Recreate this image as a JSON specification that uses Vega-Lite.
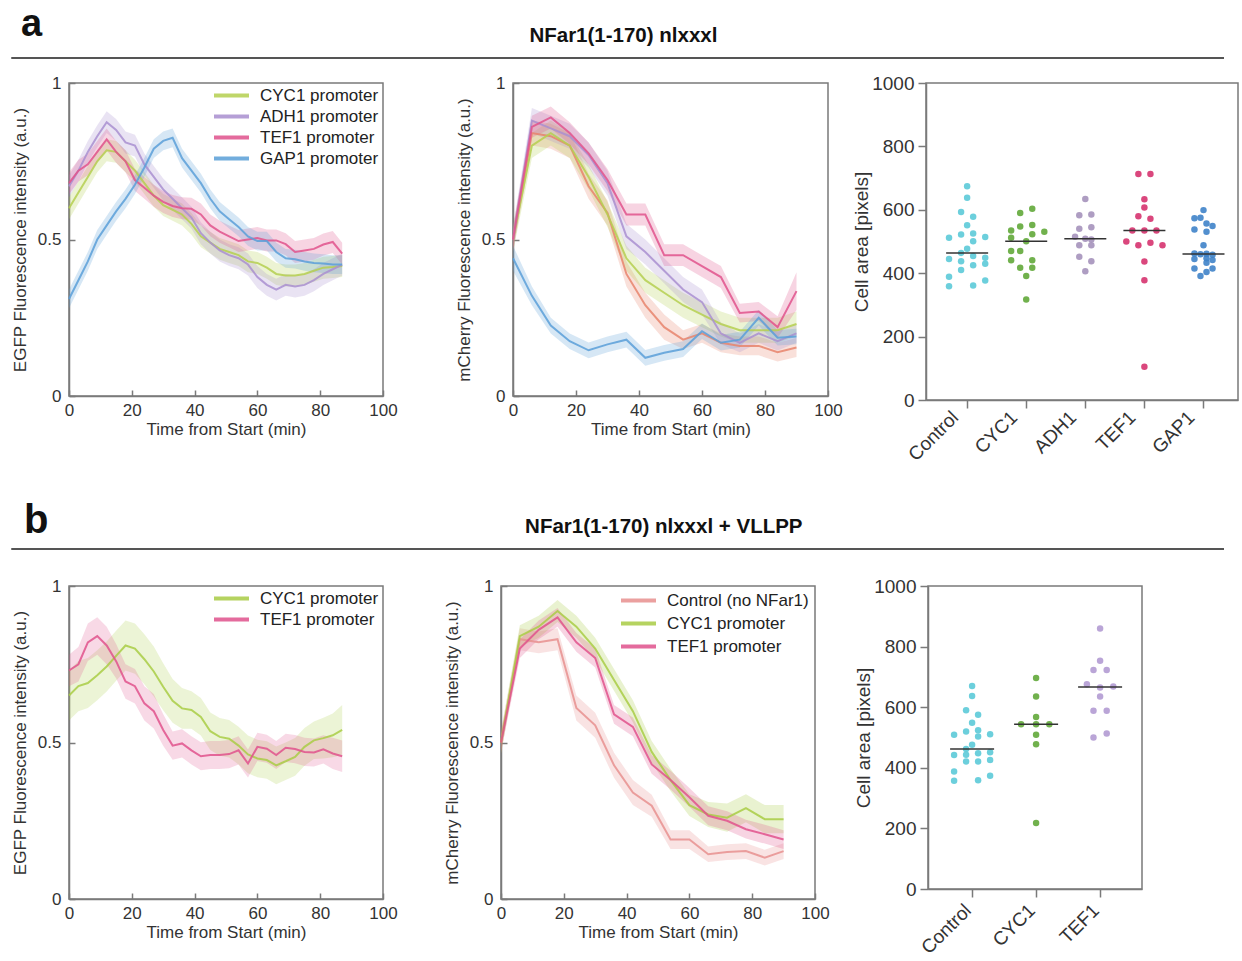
{
"$schema": "https://vega.github.io/schema/vega-lite/v6.json",
"padding": {"left": 10, "top": 0, "right": 0, "bottom": 0},
"config": {
 "font": "Liberation Sans",
 "view": {"stroke": "#7a7a7a", "strokeWidth": 1.5},
 "axis": {"labelFontSize": 17, "titleFontSize": 17, "titleFontWeight": "normal", "labelColor": "#333", "titleColor": "#333", "domainColor": "#7a7a7a", "tickColor": "#7a7a7a", "domainWidth": 1.5, "tickWidth": 1.5, "grid": false, "labelFlush": false, "labelOverlap": false}
},
"datasets": {
 "egfpA": [
  {"t":0,"s":"CYC1 promoter","m":0.6,"e":0.035},{"t":3,"s":"CYC1 promoter","m":0.65,"e":0.035},{"t":6,"s":"CYC1 promoter","m":0.7,"e":0.035},{"t":9,"s":"CYC1 promoter","m":0.75,"e":0.035},{"t":12,"s":"CYC1 promoter","m":0.785,"e":0.035},{"t":15,"s":"CYC1 promoter","m":0.78,"e":0.035},{"t":18,"s":"CYC1 promoter","m":0.75,"e":0.035},{"t":21,"s":"CYC1 promoter","m":0.72,"e":0.035},{"t":24,"s":"CYC1 promoter","m":0.68,"e":0.035},{"t":27,"s":"CYC1 promoter","m":0.64,"e":0.035},{"t":30,"s":"CYC1 promoter","m":0.61,"e":0.035},{"t":33,"s":"CYC1 promoter","m":0.595,"e":0.035},{"t":36,"s":"CYC1 promoter","m":0.58,"e":0.035},{"t":39,"s":"CYC1 promoter","m":0.55,"e":0.035},{"t":42,"s":"CYC1 promoter","m":0.51,"e":0.035},{"t":45,"s":"CYC1 promoter","m":0.49,"e":0.035},{"t":48,"s":"CYC1 promoter","m":0.47,"e":0.035},{"t":51,"s":"CYC1 promoter","m":0.46,"e":0.035},{"t":54,"s":"CYC1 promoter","m":0.45,"e":0.035},{"t":57,"s":"CYC1 promoter","m":0.43,"e":0.035},{"t":60,"s":"CYC1 promoter","m":0.425,"e":0.035},{"t":63,"s":"CYC1 promoter","m":0.41,"e":0.035},{"t":66,"s":"CYC1 promoter","m":0.39,"e":0.035},{"t":69,"s":"CYC1 promoter","m":0.385,"e":0.035},{"t":72,"s":"CYC1 promoter","m":0.385,"e":0.035},{"t":75,"s":"CYC1 promoter","m":0.39,"e":0.035},{"t":78,"s":"CYC1 promoter","m":0.4,"e":0.035},{"t":81,"s":"CYC1 promoter","m":0.41,"e":0.035},{"t":84,"s":"CYC1 promoter","m":0.412,"e":0.035},{"t":87,"s":"CYC1 promoter","m":0.415,"e":0.035},
  {"t":0,"s":"ADH1 promoter","m":0.67,"e":0.035},{"t":3,"s":"ADH1 promoter","m":0.72,"e":0.035},{"t":6,"s":"ADH1 promoter","m":0.78,"e":0.035},{"t":9,"s":"ADH1 promoter","m":0.83,"e":0.035},{"t":12,"s":"ADH1 promoter","m":0.875,"e":0.035},{"t":15,"s":"ADH1 promoter","m":0.85,"e":0.035},{"t":18,"s":"ADH1 promoter","m":0.81,"e":0.035},{"t":21,"s":"ADH1 promoter","m":0.8,"e":0.035},{"t":24,"s":"ADH1 promoter","m":0.74,"e":0.035},{"t":27,"s":"ADH1 promoter","m":0.7,"e":0.035},{"t":30,"s":"ADH1 promoter","m":0.66,"e":0.035},{"t":33,"s":"ADH1 promoter","m":0.63,"e":0.035},{"t":36,"s":"ADH1 promoter","m":0.6,"e":0.035},{"t":39,"s":"ADH1 promoter","m":0.57,"e":0.035},{"t":42,"s":"ADH1 promoter","m":0.52,"e":0.035},{"t":45,"s":"ADH1 promoter","m":0.49,"e":0.035},{"t":48,"s":"ADH1 promoter","m":0.465,"e":0.035},{"t":51,"s":"ADH1 promoter","m":0.45,"e":0.035},{"t":54,"s":"ADH1 promoter","m":0.44,"e":0.035},{"t":57,"s":"ADH1 promoter","m":0.42,"e":0.035},{"t":60,"s":"ADH1 promoter","m":0.38,"e":0.035},{"t":63,"s":"ADH1 promoter","m":0.355,"e":0.035},{"t":66,"s":"ADH1 promoter","m":0.34,"e":0.035},{"t":69,"s":"ADH1 promoter","m":0.355,"e":0.035},{"t":72,"s":"ADH1 promoter","m":0.35,"e":0.035},{"t":75,"s":"ADH1 promoter","m":0.355,"e":0.035},{"t":78,"s":"ADH1 promoter","m":0.37,"e":0.035},{"t":81,"s":"ADH1 promoter","m":0.39,"e":0.035},{"t":84,"s":"ADH1 promoter","m":0.405,"e":0.035},{"t":87,"s":"ADH1 promoter","m":0.42,"e":0.035},
  {"t":0,"s":"TEF1 promoter","m":0.68,"e":0.035},{"t":3,"s":"TEF1 promoter","m":0.72,"e":0.035},{"t":6,"s":"TEF1 promoter","m":0.74,"e":0.035},{"t":9,"s":"TEF1 promoter","m":0.78,"e":0.035},{"t":12,"s":"TEF1 promoter","m":0.82,"e":0.035},{"t":15,"s":"TEF1 promoter","m":0.78,"e":0.035},{"t":18,"s":"TEF1 promoter","m":0.75,"e":0.035},{"t":21,"s":"TEF1 promoter","m":0.69,"e":0.035},{"t":24,"s":"TEF1 promoter","m":0.665,"e":0.035},{"t":27,"s":"TEF1 promoter","m":0.64,"e":0.035},{"t":30,"s":"TEF1 promoter","m":0.62,"e":0.035},{"t":33,"s":"TEF1 promoter","m":0.607,"e":0.035},{"t":36,"s":"TEF1 promoter","m":0.6,"e":0.035},{"t":39,"s":"TEF1 promoter","m":0.598,"e":0.035},{"t":42,"s":"TEF1 promoter","m":0.58,"e":0.035},{"t":45,"s":"TEF1 promoter","m":0.545,"e":0.035},{"t":48,"s":"TEF1 promoter","m":0.525,"e":0.035},{"t":51,"s":"TEF1 promoter","m":0.51,"e":0.035},{"t":54,"s":"TEF1 promoter","m":0.495,"e":0.035},{"t":57,"s":"TEF1 promoter","m":0.5,"e":0.035},{"t":60,"s":"TEF1 promoter","m":0.505,"e":0.035},{"t":63,"s":"TEF1 promoter","m":0.497,"e":0.035},{"t":66,"s":"TEF1 promoter","m":0.497,"e":0.035},{"t":69,"s":"TEF1 promoter","m":0.485,"e":0.035},{"t":72,"s":"TEF1 promoter","m":0.46,"e":0.035},{"t":75,"s":"TEF1 promoter","m":0.465,"e":0.035},{"t":78,"s":"TEF1 promoter","m":0.47,"e":0.035},{"t":81,"s":"TEF1 promoter","m":0.484,"e":0.035},{"t":84,"s":"TEF1 promoter","m":0.492,"e":0.035},{"t":87,"s":"TEF1 promoter","m":0.455,"e":0.035},
  {"t":0,"s":"GAP1 promoter","m":0.31,"e":0.03},{"t":3,"s":"GAP1 promoter","m":0.37,"e":0.03},{"t":6,"s":"GAP1 promoter","m":0.43,"e":0.03},{"t":9,"s":"GAP1 promoter","m":0.5,"e":0.03},{"t":12,"s":"GAP1 promoter","m":0.545,"e":0.03},{"t":15,"s":"GAP1 promoter","m":0.59,"e":0.03},{"t":18,"s":"GAP1 promoter","m":0.63,"e":0.03},{"t":21,"s":"GAP1 promoter","m":0.675,"e":0.03},{"t":24,"s":"GAP1 promoter","m":0.73,"e":0.03},{"t":27,"s":"GAP1 promoter","m":0.79,"e":0.03},{"t":30,"s":"GAP1 promoter","m":0.815,"e":0.03},{"t":33,"s":"GAP1 promoter","m":0.825,"e":0.03},{"t":36,"s":"GAP1 promoter","m":0.76,"e":0.03},{"t":39,"s":"GAP1 promoter","m":0.72,"e":0.03},{"t":42,"s":"GAP1 promoter","m":0.68,"e":0.03},{"t":45,"s":"GAP1 promoter","m":0.63,"e":0.03},{"t":48,"s":"GAP1 promoter","m":0.59,"e":0.03},{"t":51,"s":"GAP1 promoter","m":0.565,"e":0.03},{"t":54,"s":"GAP1 promoter","m":0.54,"e":0.03},{"t":57,"s":"GAP1 promoter","m":0.51,"e":0.03},{"t":60,"s":"GAP1 promoter","m":0.495,"e":0.03},{"t":63,"s":"GAP1 promoter","m":0.495,"e":0.03},{"t":66,"s":"GAP1 promoter","m":0.46,"e":0.03},{"t":69,"s":"GAP1 promoter","m":0.44,"e":0.03},{"t":72,"s":"GAP1 promoter","m":0.437,"e":0.03},{"t":75,"s":"GAP1 promoter","m":0.43,"e":0.03},{"t":78,"s":"GAP1 promoter","m":0.425,"e":0.03},{"t":81,"s":"GAP1 promoter","m":0.423,"e":0.03},{"t":84,"s":"GAP1 promoter","m":0.42,"e":0.03},{"t":87,"s":"GAP1 promoter","m":0.42,"e":0.03}
 ],
 "mchA": [
  {"t":0,"s":"Control (no NFar1)","m":0.5,"e":0.04},{"t":6,"s":"Control (no NFar1)","m":0.84,"e":0.04},{"t":12,"s":"Control (no NFar1)","m":0.83,"e":0.04},{"t":18,"s":"Control (no NFar1)","m":0.8,"e":0.04},{"t":24,"s":"Control (no NFar1)","m":0.67,"e":0.04},{"t":30,"s":"Control (no NFar1)","m":0.585,"e":0.04},{"t":36,"s":"Control (no NFar1)","m":0.39,"e":0.04},{"t":42,"s":"Control (no NFar1)","m":0.29,"e":0.04},{"t":48,"s":"Control (no NFar1)","m":0.22,"e":0.04},{"t":54,"s":"Control (no NFar1)","m":0.18,"e":0.03},{"t":60,"s":"Control (no NFar1)","m":0.2,"e":0.03},{"t":66,"s":"Control (no NFar1)","m":0.17,"e":0.03},{"t":72,"s":"Control (no NFar1)","m":0.16,"e":0.03},{"t":78,"s":"Control (no NFar1)","m":0.16,"e":0.03},{"t":84,"s":"Control (no NFar1)","m":0.14,"e":0.03},{"t":90,"s":"Control (no NFar1)","m":0.155,"e":0.03},
  {"t":0,"s":"CYC1 promoter","m":0.5,"e":0.04},{"t":6,"s":"CYC1 promoter","m":0.8,"e":0.04},{"t":12,"s":"CYC1 promoter","m":0.84,"e":0.04},{"t":18,"s":"CYC1 promoter","m":0.8,"e":0.04},{"t":24,"s":"CYC1 promoter","m":0.7,"e":0.04},{"t":30,"s":"CYC1 promoter","m":0.58,"e":0.04},{"t":36,"s":"CYC1 promoter","m":0.44,"e":0.04},{"t":42,"s":"CYC1 promoter","m":0.37,"e":0.04},{"t":48,"s":"CYC1 promoter","m":0.33,"e":0.04},{"t":54,"s":"CYC1 promoter","m":0.29,"e":0.04},{"t":60,"s":"CYC1 promoter","m":0.26,"e":0.04},{"t":66,"s":"CYC1 promoter","m":0.23,"e":0.04},{"t":72,"s":"CYC1 promoter","m":0.21,"e":0.04},{"t":78,"s":"CYC1 promoter","m":0.21,"e":0.04},{"t":84,"s":"CYC1 promoter","m":0.21,"e":0.04},{"t":90,"s":"CYC1 promoter","m":0.23,"e":0.04},
  {"t":0,"s":"ADH1 promoter","m":0.5,"e":0.04},{"t":6,"s":"ADH1 promoter","m":0.88,"e":0.04},{"t":12,"s":"ADH1 promoter","m":0.855,"e":0.04},{"t":18,"s":"ADH1 promoter","m":0.83,"e":0.04},{"t":24,"s":"ADH1 promoter","m":0.77,"e":0.04},{"t":30,"s":"ADH1 promoter","m":0.68,"e":0.04},{"t":36,"s":"ADH1 promoter","m":0.51,"e":0.04},{"t":42,"s":"ADH1 promoter","m":0.46,"e":0.04},{"t":48,"s":"ADH1 promoter","m":0.4,"e":0.04},{"t":54,"s":"ADH1 promoter","m":0.34,"e":0.04},{"t":60,"s":"ADH1 promoter","m":0.3,"e":0.04},{"t":66,"s":"ADH1 promoter","m":0.2,"e":0.035},{"t":72,"s":"ADH1 promoter","m":0.17,"e":0.03},{"t":78,"s":"ADH1 promoter","m":0.2,"e":0.03},{"t":84,"s":"ADH1 promoter","m":0.175,"e":0.03},{"t":90,"s":"ADH1 promoter","m":0.2,"e":0.03},
  {"t":0,"s":"TEF1 promoter","m":0.5,"e":0.035},{"t":6,"s":"TEF1 promoter","m":0.86,"e":0.035},{"t":12,"s":"TEF1 promoter","m":0.89,"e":0.035},{"t":18,"s":"TEF1 promoter","m":0.84,"e":0.035},{"t":24,"s":"TEF1 promoter","m":0.775,"e":0.035},{"t":30,"s":"TEF1 promoter","m":0.69,"e":0.035},{"t":36,"s":"TEF1 promoter","m":0.58,"e":0.035},{"t":42,"s":"TEF1 promoter","m":0.58,"e":0.035},{"t":48,"s":"TEF1 promoter","m":0.45,"e":0.035},{"t":54,"s":"TEF1 promoter","m":0.45,"e":0.035},{"t":60,"s":"TEF1 promoter","m":0.415,"e":0.035},{"t":66,"s":"TEF1 promoter","m":0.38,"e":0.035},{"t":72,"s":"TEF1 promoter","m":0.265,"e":0.03},{"t":78,"s":"TEF1 promoter","m":0.27,"e":0.03},{"t":84,"s":"TEF1 promoter","m":0.22,"e":0.035},{"t":90,"s":"TEF1 promoter","m":0.335,"e":0.06},
  {"t":0,"s":"GAP1 promoter","m":0.44,"e":0.04},{"t":6,"s":"GAP1 promoter","m":0.32,"e":0.03},{"t":12,"s":"GAP1 promoter","m":0.225,"e":0.025},{"t":18,"s":"GAP1 promoter","m":0.175,"e":0.025},{"t":24,"s":"GAP1 promoter","m":0.146,"e":0.025},{"t":30,"s":"GAP1 promoter","m":0.165,"e":0.025},{"t":36,"s":"GAP1 promoter","m":0.18,"e":0.025},{"t":42,"s":"GAP1 promoter","m":0.122,"e":0.025},{"t":48,"s":"GAP1 promoter","m":0.138,"e":0.025},{"t":54,"s":"GAP1 promoter","m":0.15,"e":0.025},{"t":60,"s":"GAP1 promoter","m":0.207,"e":0.025},{"t":66,"s":"GAP1 promoter","m":0.17,"e":0.025},{"t":72,"s":"GAP1 promoter","m":0.18,"e":0.025},{"t":78,"s":"GAP1 promoter","m":0.25,"e":0.025},{"t":84,"s":"GAP1 promoter","m":0.186,"e":0.025},{"t":90,"s":"GAP1 promoter","m":0.19,"e":0.025}
 ],
 "egfpB": [
  {"t":0,"s":"CYC1 promoter","m":0.65,"e":0.08},{"t":3,"s":"CYC1 promoter","m":0.68,"e":0.08},{"t":6,"s":"CYC1 promoter","m":0.69,"e":0.08},{"t":9,"s":"CYC1 promoter","m":0.715,"e":0.08},{"t":12,"s":"CYC1 promoter","m":0.743,"e":0.08},{"t":15,"s":"CYC1 promoter","m":0.777,"e":0.08},{"t":18,"s":"CYC1 promoter","m":0.81,"e":0.08},{"t":21,"s":"CYC1 promoter","m":0.8,"e":0.08},{"t":24,"s":"CYC1 promoter","m":0.766,"e":0.08},{"t":27,"s":"CYC1 promoter","m":0.727,"e":0.08},{"t":30,"s":"CYC1 promoter","m":0.678,"e":0.075},{"t":33,"s":"CYC1 promoter","m":0.633,"e":0.07},{"t":36,"s":"CYC1 promoter","m":0.609,"e":0.065},{"t":39,"s":"CYC1 promoter","m":0.604,"e":0.06},{"t":42,"s":"CYC1 promoter","m":0.582,"e":0.06},{"t":45,"s":"CYC1 promoter","m":0.536,"e":0.06},{"t":48,"s":"CYC1 promoter","m":0.518,"e":0.06},{"t":51,"s":"CYC1 promoter","m":0.512,"e":0.06},{"t":54,"s":"CYC1 promoter","m":0.49,"e":0.06},{"t":57,"s":"CYC1 promoter","m":0.462,"e":0.06},{"t":60,"s":"CYC1 promoter","m":0.449,"e":0.06},{"t":63,"s":"CYC1 promoter","m":0.444,"e":0.06},{"t":66,"s":"CYC1 promoter","m":0.427,"e":0.06},{"t":69,"s":"CYC1 promoter","m":0.44,"e":0.06},{"t":72,"s":"CYC1 promoter","m":0.454,"e":0.06},{"t":75,"s":"CYC1 promoter","m":0.486,"e":0.06},{"t":78,"s":"CYC1 promoter","m":0.507,"e":0.06},{"t":81,"s":"CYC1 promoter","m":0.514,"e":0.065},{"t":84,"s":"CYC1 promoter","m":0.523,"e":0.07},{"t":87,"s":"CYC1 promoter","m":0.54,"e":0.08},
  {"t":0,"s":"TEF1 promoter","m":0.73,"e":0.05},{"t":3,"s":"TEF1 promoter","m":0.75,"e":0.055},{"t":6,"s":"TEF1 promoter","m":0.82,"e":0.06},{"t":9,"s":"TEF1 promoter","m":0.84,"e":0.06},{"t":12,"s":"TEF1 promoter","m":0.81,"e":0.06},{"t":15,"s":"TEF1 promoter","m":0.76,"e":0.055},{"t":18,"s":"TEF1 promoter","m":0.695,"e":0.055},{"t":21,"s":"TEF1 promoter","m":0.68,"e":0.055},{"t":24,"s":"TEF1 promoter","m":0.625,"e":0.055},{"t":27,"s":"TEF1 promoter","m":0.6,"e":0.055},{"t":30,"s":"TEF1 promoter","m":0.54,"e":0.05},{"t":33,"s":"TEF1 promoter","m":0.49,"e":0.045},{"t":36,"s":"TEF1 promoter","m":0.497,"e":0.045},{"t":39,"s":"TEF1 promoter","m":0.475,"e":0.045},{"t":42,"s":"TEF1 promoter","m":0.456,"e":0.045},{"t":45,"s":"TEF1 promoter","m":0.46,"e":0.045},{"t":48,"s":"TEF1 promoter","m":0.46,"e":0.045},{"t":51,"s":"TEF1 promoter","m":0.463,"e":0.045},{"t":54,"s":"TEF1 promoter","m":0.475,"e":0.045},{"t":57,"s":"TEF1 promoter","m":0.433,"e":0.045},{"t":60,"s":"TEF1 promoter","m":0.486,"e":0.045},{"t":63,"s":"TEF1 promoter","m":0.48,"e":0.045},{"t":66,"s":"TEF1 promoter","m":0.46,"e":0.045},{"t":69,"s":"TEF1 promoter","m":0.483,"e":0.045},{"t":72,"s":"TEF1 promoter","m":0.479,"e":0.045},{"t":75,"s":"TEF1 promoter","m":0.47,"e":0.045},{"t":78,"s":"TEF1 promoter","m":0.468,"e":0.045},{"t":81,"s":"TEF1 promoter","m":0.478,"e":0.045},{"t":84,"s":"TEF1 promoter","m":0.465,"e":0.05},{"t":87,"s":"TEF1 promoter","m":0.456,"e":0.05}
 ],
 "mchB": [
  {"t":0,"s":"Control (no NFar1)","m":0.5,"e":0.035},{"t":6,"s":"Control (no NFar1)","m":0.83,"e":0.035},{"t":12,"s":"Control (no NFar1)","m":0.82,"e":0.035},{"t":18,"s":"Control (no NFar1)","m":0.83,"e":0.035},{"t":24,"s":"Control (no NFar1)","m":0.61,"e":0.04},{"t":30,"s":"Control (no NFar1)","m":0.555,"e":0.04},{"t":36,"s":"Control (no NFar1)","m":0.427,"e":0.04},{"t":42,"s":"Control (no NFar1)","m":0.34,"e":0.04},{"t":48,"s":"Control (no NFar1)","m":0.298,"e":0.035},{"t":54,"s":"Control (no NFar1)","m":0.19,"e":0.03},{"t":60,"s":"Control (no NFar1)","m":0.19,"e":0.03},{"t":66,"s":"Control (no NFar1)","m":0.143,"e":0.025},{"t":72,"s":"Control (no NFar1)","m":0.15,"e":0.025},{"t":78,"s":"Control (no NFar1)","m":0.153,"e":0.025},{"t":84,"s":"Control (no NFar1)","m":0.132,"e":0.025},{"t":90,"s":"Control (no NFar1)","m":0.153,"e":0.025},
  {"t":0,"s":"CYC1 promoter","m":0.5,"e":0.035},{"t":6,"s":"CYC1 promoter","m":0.84,"e":0.035},{"t":12,"s":"CYC1 promoter","m":0.87,"e":0.035},{"t":18,"s":"CYC1 promoter","m":0.92,"e":0.035},{"t":24,"s":"CYC1 promoter","m":0.87,"e":0.035},{"t":30,"s":"CYC1 promoter","m":0.8,"e":0.035},{"t":36,"s":"CYC1 promoter","m":0.7,"e":0.035},{"t":42,"s":"CYC1 promoter","m":0.6,"e":0.035},{"t":48,"s":"CYC1 promoter","m":0.47,"e":0.035},{"t":54,"s":"CYC1 promoter","m":0.38,"e":0.035},{"t":60,"s":"CYC1 promoter","m":0.3,"e":0.035},{"t":66,"s":"CYC1 promoter","m":0.27,"e":0.04},{"t":72,"s":"CYC1 promoter","m":0.26,"e":0.045},{"t":78,"s":"CYC1 promoter","m":0.29,"e":0.045},{"t":84,"s":"CYC1 promoter","m":0.255,"e":0.045},{"t":90,"s":"CYC1 promoter","m":0.255,"e":0.045},
  {"t":0,"s":"TEF1 promoter","m":0.5,"e":0.03},{"t":6,"s":"TEF1 promoter","m":0.8,"e":0.03},{"t":12,"s":"TEF1 promoter","m":0.86,"e":0.03},{"t":18,"s":"TEF1 promoter","m":0.9,"e":0.03},{"t":24,"s":"TEF1 promoter","m":0.82,"e":0.03},{"t":30,"s":"TEF1 promoter","m":0.77,"e":0.03},{"t":36,"s":"TEF1 promoter","m":0.59,"e":0.03},{"t":42,"s":"TEF1 promoter","m":0.55,"e":0.03},{"t":48,"s":"TEF1 promoter","m":0.43,"e":0.03},{"t":54,"s":"TEF1 promoter","m":0.38,"e":0.03},{"t":60,"s":"TEF1 promoter","m":0.325,"e":0.03},{"t":66,"s":"TEF1 promoter","m":0.266,"e":0.03},{"t":72,"s":"TEF1 promoter","m":0.25,"e":0.03},{"t":78,"s":"TEF1 promoter","m":0.223,"e":0.03},{"t":84,"s":"TEF1 promoter","m":0.207,"e":0.03},{"t":90,"s":"TEF1 promoter","m":0.19,"e":0.03}
 ],
 "cellA": [
  {"g":"Control","v":674,"k":0},{"g":"Control","v":638,"k":0},{"g":"Control","v":593,"k":-1},{"g":"Control","v":578,"k":1},{"g":"Control","v":551,"k":0},{"g":"Control","v":522,"k":-1},{"g":"Control","v":525,"k":1},{"g":"Control","v":512,"k":-3},{"g":"Control","v":514,"k":3},{"g":"Control","v":501,"k":1},{"g":"Control","v":477,"k":0},{"g":"Control","v":464,"k":-1},{"g":"Control","v":445,"k":-3},{"g":"Control","v":438,"k":-1},{"g":"Control","v":454,"k":1},{"g":"Control","v":449,"k":3},{"g":"Control","v":425,"k":1},{"g":"Control","v":410,"k":-1},{"g":"Control","v":430,"k":3},{"g":"Control","v":389,"k":-3},{"g":"Control","v":377,"k":3},{"g":"Control","v":359,"k":-3},{"g":"Control","v":361,"k":1},
  {"g":"CYC1","v":590,"k":-1},{"g":"CYC1","v":603,"k":1},{"g":"CYC1","v":535,"k":-2.5},{"g":"CYC1","v":547,"k":-1},{"g":"CYC1","v":552,"k":1},{"g":"CYC1","v":523,"k":1},{"g":"CYC1","v":531,"k":3},{"g":"CYC1","v":512,"k":-2.5},{"g":"CYC1","v":501,"k":0},{"g":"CYC1","v":470,"k":-2.5},{"g":"CYC1","v":470,"k":-1},{"g":"CYC1","v":441,"k":-2.5},{"g":"CYC1","v":441,"k":1},{"g":"CYC1","v":417,"k":-1},{"g":"CYC1","v":417,"k":1},{"g":"CYC1","v":391,"k":0},{"g":"CYC1","v":317,"k":0},
  {"g":"ADH1","v":634,"k":0},{"g":"ADH1","v":583,"k":-1},{"g":"ADH1","v":585,"k":1},{"g":"ADH1","v":540,"k":-1},{"g":"ADH1","v":545,"k":1},{"g":"ADH1","v":515,"k":-1.7},{"g":"ADH1","v":509,"k":0},{"g":"ADH1","v":506,"k":1},{"g":"ADH1","v":488,"k":-1},{"g":"ADH1","v":488,"k":1},{"g":"ADH1","v":452,"k":-1},{"g":"ADH1","v":438,"k":1},{"g":"ADH1","v":406,"k":0},
  {"g":"TEF1","v":713,"k":-1},{"g":"TEF1","v":713,"k":1},{"g":"TEF1","v":633,"k":0},{"g":"TEF1","v":607,"k":0},{"g":"TEF1","v":580,"k":-1},{"g":"TEF1","v":572,"k":1},{"g":"TEF1","v":535,"k":-2},{"g":"TEF1","v":535,"k":0},{"g":"TEF1","v":535,"k":2},{"g":"TEF1","v":500,"k":-3},{"g":"TEF1","v":488,"k":-1},{"g":"TEF1","v":496,"k":1},{"g":"TEF1","v":488,"k":3},{"g":"TEF1","v":437,"k":0},{"g":"TEF1","v":378,"k":0},{"g":"TEF1","v":105,"k":0},
  {"g":"GAP1","v":599,"k":0},{"g":"GAP1","v":573,"k":-1.5},{"g":"GAP1","v":575,"k":-0.5},{"g":"GAP1","v":557,"k":0.5},{"g":"GAP1","v":549,"k":1.5},{"g":"GAP1","v":538,"k":-1.5},{"g":"GAP1","v":531,"k":0.5},{"g":"GAP1","v":488,"k":0},{"g":"GAP1","v":462,"k":-1.5},{"g":"GAP1","v":460,"k":-0.5},{"g":"GAP1","v":461,"k":0.5},{"g":"GAP1","v":458,"k":1.5},{"g":"GAP1","v":445,"k":-1.5},{"g":"GAP1","v":447,"k":0.5},{"g":"GAP1","v":442,"k":1.5},{"g":"GAP1","v":433,"k":0.5},{"g":"GAP1","v":415,"k":-1.5},{"g":"GAP1","v":415,"k":1.5},{"g":"GAP1","v":404,"k":0.5},{"g":"GAP1","v":391,"k":-0.5}
 ],
 "cellB": [
  {"g":"Control","v":670,"k":0},{"g":"Control","v":637,"k":0},{"g":"Control","v":590,"k":-1},{"g":"Control","v":575,"k":1},{"g":"Control","v":549,"k":0},{"g":"Control","v":520,"k":-1},{"g":"Control","v":524,"k":1},{"g":"Control","v":509,"k":-3},{"g":"Control","v":511,"k":3},{"g":"Control","v":503,"k":1},{"g":"Control","v":476,"k":0},{"g":"Control","v":462,"k":-1},{"g":"Control","v":442,"k":-3},{"g":"Control","v":443,"k":-1},{"g":"Control","v":448,"k":1},{"g":"Control","v":451,"k":3},{"g":"Control","v":421,"k":1},{"g":"Control","v":421,"k":-1},{"g":"Control","v":426,"k":3},{"g":"Control","v":388,"k":-3},{"g":"Control","v":374,"k":3},{"g":"Control","v":357,"k":-3},{"g":"Control","v":359,"k":1},
  {"g":"CYC1","v":696,"k":0},{"g":"CYC1","v":635,"k":0},{"g":"CYC1","v":568,"k":0},{"g":"CYC1","v":544,"k":-2.5},{"g":"CYC1","v":544,"k":0},{"g":"CYC1","v":544,"k":2.2},{"g":"CYC1","v":509,"k":0},{"g":"CYC1","v":478,"k":0},{"g":"CYC1","v":218,"k":0},
  {"g":"TEF1","v":860,"k":0},{"g":"TEF1","v":753,"k":0},{"g":"TEF1","v":723,"k":-1.1},{"g":"TEF1","v":723,"k":1.1},{"g":"TEF1","v":676,"k":-2.2},{"g":"TEF1","v":665,"k":0},{"g":"TEF1","v":668,"k":2.2},{"g":"TEF1","v":635,"k":0},{"g":"TEF1","v":588,"k":-1.1},{"g":"TEF1","v":588,"k":1.1},{"g":"TEF1","v":500,"k":-1.1},{"g":"TEF1","v":513,"k":1.1}
 ]
},
"resolve": {"scale": {"color": "independent", "xOffset": "independent"}, "legend": {"color": "independent"}},
"spacing": 25,
"vconcat": [
 {
  "spacing": 14,
  "resolve": {"scale": {"color": "independent", "xOffset": "independent"}, "legend": {"color": "independent"}},
  "vconcat": [
   {
    "width": 1155, "height": 58, "view": {"stroke": null},
    "data": {"values": [{"p": "a", "title": "NFar1(1-170) nlxxxl"}]},
    "layer": [
     {"mark": {"type": "rule", "stroke": "#555", "strokeWidth": 2}, "encoding": {"x": {"datum": -0.05, "type": "quantitative", "scale": {"domain": [0, 1], "zero": false, "nice": false}, "axis": null}, "x2": {"datum": 1}, "y": {"datum": 0, "type": "quantitative", "scale": {"domain": [0, 1]}, "axis": null}}},
     {"mark": {"type": "text", "fontSize": 38, "fontWeight": "bold", "align": "left", "baseline": "alphabetic", "color": "#111"}, "encoding": {"text": {"field": "p"}, "x": {"datum": -0.0416, "type": "quantitative"}, "y": {"datum": 0.379, "type": "quantitative"}}},
     {"mark": {"type": "text", "fontSize": 20.5, "fontWeight": "bold", "align": "center", "baseline": "alphabetic", "color": "#111"}, "encoding": {"text": {"field": "title"}, "x": {"datum": 0.48, "type": "quantitative"}, "y": {"datum": 0.276, "type": "quantitative"}}}
    ]
   },
   {
    "spacing": 8,
    "resolve": {"scale": {"color": "independent", "xOffset": "independent"}, "legend": {"color": "independent"}},
    "hconcat": [
     {
      "spacing": 130, "bounds": "flush",
      "resolve": {"scale": {"color": "independent"}, "legend": {"color": "independent"}},
      "hconcat": [
       {
        "width": 314, "height": 313,
        "data": {"name": "egfpA"},
        "encoding": {
         "x": {"field": "t", "type": "quantitative", "scale": {"domain": [0, 100]}, "axis": {"values": [0, 20, 40, 60, 80, 100], "title": "Time from Start (min)", "tickSize": -6, "labelPadding": 12, "titlePadding": 3}},
         "color": {"field": "s", "type": "nominal", "scale": {"domain": ["CYC1 promoter", "ADH1 promoter", "TEF1 promoter", "GAP1 promoter"], "range": ["#b5cf50", "#a98fd0", "#e0528c", "#5a9fd8"]},
          "legend": {"orient": "top-right", "title": null, "offset": 4, "padding": 0, "labelFontSize": 17, "labelColor": "#222", "symbolType": "M-3.5,0H3.5", "symbolSize": 100, "symbolStrokeWidth": 4, "symbolOpacity": 0.85, "labelOffset": 20, "rowPadding": 3}}
        },
        "layer": [
         {"mark": {"type": "errorband", "opacity": 0.25}, "encoding": {"y": {"field": "m", "type": "quantitative", "scale": {"domain": [0, 1]}, "axis": {"values": [0, 0.5, 1], "format": "~g", "title": "EGFP Fluorescence intensity (a.u.)", "tickSize": -6, "labelPadding": 14, "titlePadding": 8}}, "yError": {"field": "e"}}},
         {"mark": {"type": "line", "strokeWidth": 2, "opacity": 0.85}, "encoding": {"y": {"field": "m", "type": "quantitative", "scale": {"domain": [0, 1]}, "axis": {"values": [0, 0.5, 1], "format": "~g", "title": "EGFP Fluorescence intensity (a.u.)", "tickSize": -6, "labelPadding": 14, "titlePadding": 8}}}}
        ]
       },
       {
        "width": 315, "height": 313,
        "data": {"name": "mchA"},
        "encoding": {
         "x": {"field": "t", "type": "quantitative", "scale": {"domain": [0, 100]}, "axis": {"values": [0, 20, 40, 60, 80, 100], "title": "Time from Start (min)", "tickSize": -6, "labelPadding": 12, "titlePadding": 3}},
         "color": {"field": "s", "type": "nominal", "scale": {"domain": ["Control (no NFar1)", "CYC1 promoter", "ADH1 promoter", "TEF1 promoter", "GAP1 promoter"], "range": ["#e8846c", "#b5cf50", "#a98fd0", "#e0528c", "#5a9fd8"]}, "legend": null}
        },
        "layer": [
         {"mark": {"type": "errorband", "opacity": 0.25}, "encoding": {"y": {"field": "m", "type": "quantitative", "scale": {"domain": [0, 1]}, "axis": {"values": [0, 0.5, 1], "format": "~g", "title": "mCherry Fluorescence intensity (a.u.)", "tickSize": -6, "labelPadding": 14, "titlePadding": 8}}, "yError": {"field": "e"}}},
         {"mark": {"type": "line", "strokeWidth": 2, "opacity": 0.85}, "encoding": {"y": {"field": "m", "type": "quantitative", "scale": {"domain": [0, 1]}, "axis": {"values": [0, 0.5, 1], "format": "~g", "title": "mCherry Fluorescence intensity (a.u.)", "tickSize": -6, "labelPadding": 14, "titlePadding": 8}}}}
        ]
       }
      ]
     },
     {
      "width": 312, "height": 317,
      "data": {"name": "cellA"},
      "encoding": {
       "x": {"field": "g", "type": "nominal", "scale": {"type": "band", "domain": ["Control", "CYC1", "ADH1", "TEF1", "GAP1"], "paddingInner": 0, "paddingOuter": 0.14, "align": 0.7}, "axis": {"title": null, "labelAngle": -45, "labelAlign": "right", "labelBaseline": "middle", "labelOffset": -12, "labelFontSize": 19, "tickSize": 8, "labelPadding": 6}},
       "y": {"field": "v", "type": "quantitative", "scale": {"domain": [0, 1000]}, "axis": {"values": [0, 200, 400, 600, 800, 1000], "format": "d", "title": "Cell area [pixels]", "labelFontSize": 19, "titleFontSize": 19, "tickSize": 8, "labelPadding": 4, "titlePadding": 0}}
      },
      "layer": [
       {"mark": {"type": "point", "filled": true, "size": 42, "opacity": 0.9}, "encoding": {"xOffset": {"field": "k", "type": "quantitative", "scale": {"domain": [-4.9, 4.9]}}, "color": {"field": "g", "type": "nominal", "scale": {"domain": ["Control", "CYC1", "ADH1", "TEF1", "GAP1"], "range": ["#5ccad8", "#62a83a", "#a592bb", "#d6336f", "#3f83c9"]}, "legend": null}}},
       {"mark": {"type": "tick", "orient": "horizontal", "size": 42, "thickness": 1.5, "color": "#333"}, "encoding": {"y": {"aggregate": "median", "field": "v", "type": "quantitative", "scale": {"domain": [0, 1000]}, "axis": {"values": [0, 200, 400, 600, 800, 1000], "format": "d", "title": "Cell area [pixels]", "labelFontSize": 19, "titleFontSize": 19, "tickSize": 8, "labelPadding": 4, "titlePadding": 0}}}}
      ]
     }
    ]
   }
  ]
 },
 {
  "spacing": 26,
  "resolve": {"scale": {"color": "independent", "xOffset": "independent"}, "legend": {"color": "independent"}},
  "vconcat": [
   {
    "width": 1155, "height": 58, "view": {"stroke": null},
    "data": {"values": [{"p": "b", "title": "NFar1(1-170) nlxxxl + VLLPP"}]},
    "layer": [
     {"mark": {"type": "rule", "stroke": "#555", "strokeWidth": 2}, "encoding": {"x": {"datum": -0.05, "type": "quantitative", "scale": {"domain": [0, 1], "zero": false, "nice": false}, "axis": null}, "x2": {"datum": 1}, "y": {"datum": 0, "type": "quantitative", "scale": {"domain": [0, 1]}, "axis": null}}},
     {"mark": {"type": "text", "fontSize": 40, "fontWeight": "bold", "align": "left", "baseline": "alphabetic", "color": "#111"}, "encoding": {"text": {"field": "p"}, "x": {"datum": -0.039, "type": "quantitative"}, "y": {"datum": 0.276, "type": "quantitative"}}},
     {"mark": {"type": "text", "fontSize": 20.5, "fontWeight": "bold", "align": "center", "baseline": "alphabetic", "color": "#111"}, "encoding": {"text": {"field": "title"}, "x": {"datum": 0.515, "type": "quantitative"}, "y": {"datum": 0.276, "type": "quantitative"}}}
    ]
   },
   {
    "spacing": 23,
    "resolve": {"scale": {"color": "independent", "xOffset": "independent"}, "legend": {"color": "independent"}},
    "hconcat": [
     {
      "spacing": 118, "bounds": "flush",
      "resolve": {"scale": {"color": "independent"}, "legend": {"color": "independent"}},
      "hconcat": [
       {
        "width": 314, "height": 313,
        "data": {"name": "egfpB"},
        "encoding": {
         "x": {"field": "t", "type": "quantitative", "scale": {"domain": [0, 100]}, "axis": {"values": [0, 20, 40, 60, 80, 100], "title": "Time from Start (min)", "tickSize": -6, "labelPadding": 12, "titlePadding": 3}},
         "color": {"field": "s", "type": "nominal", "scale": {"domain": ["CYC1 promoter", "TEF1 promoter"], "range": ["#a9cc45", "#e0528c"]},
          "legend": {"orient": "top-right", "title": null, "offset": 4, "padding": 0, "labelFontSize": 17, "labelColor": "#222", "symbolType": "M-3.5,0H3.5", "symbolSize": 100, "symbolStrokeWidth": 4, "symbolOpacity": 0.85, "labelOffset": 20, "rowPadding": 3}}
        },
        "layer": [
         {"mark": {"type": "errorband", "opacity": 0.22}, "encoding": {"y": {"field": "m", "type": "quantitative", "scale": {"domain": [0, 1]}, "axis": {"values": [0, 0.5, 1], "format": "~g", "title": "EGFP Fluorescence intensity (a.u.)", "tickSize": -6, "labelPadding": 14, "titlePadding": 8}}, "yError": {"field": "e"}}},
         {"mark": {"type": "line", "strokeWidth": 2, "opacity": 0.85}, "encoding": {"y": {"field": "m", "type": "quantitative", "scale": {"domain": [0, 1]}, "axis": {"values": [0, 0.5, 1], "format": "~g", "title": "EGFP Fluorescence intensity (a.u.)", "tickSize": -6, "labelPadding": 14, "titlePadding": 8}}}}
        ]
       },
       {
        "width": 314, "height": 313,
        "data": {"name": "mchB"},
        "encoding": {
         "x": {"field": "t", "type": "quantitative", "scale": {"domain": [0, 100]}, "axis": {"values": [0, 20, 40, 60, 80, 100], "title": "Time from Start (min)", "tickSize": -6, "labelPadding": 12, "titlePadding": 3}},
         "color": {"field": "s", "type": "nominal", "scale": {"domain": ["Control (no NFar1)", "CYC1 promoter", "TEF1 promoter"], "range": ["#e8908f", "#a9cc45", "#e0528c"]},
          "legend": {"orient": "top-right", "title": null, "offset": 6, "padding": 0, "labelFontSize": 17, "labelColor": "#222", "symbolType": "M-3.5,0H3.5", "symbolSize": 100, "symbolStrokeWidth": 4, "symbolOpacity": 0.85, "labelOffset": 20, "rowPadding": 5}}
        },
        "layer": [
         {"mark": {"type": "errorband", "opacity": 0.25}, "encoding": {"y": {"field": "m", "type": "quantitative", "scale": {"domain": [0, 1]}, "axis": {"values": [0, 0.5, 1], "format": "~g", "title": "mCherry Fluorescence intensity (a.u.)", "tickSize": -6, "labelPadding": 14, "titlePadding": 8}}, "yError": {"field": "e"}}},
         {"mark": {"type": "line", "strokeWidth": 2, "opacity": 0.85}, "encoding": {"y": {"field": "m", "type": "quantitative", "scale": {"domain": [0, 1]}, "axis": {"values": [0, 0.5, 1], "format": "~g", "title": "mCherry Fluorescence intensity (a.u.)", "tickSize": -6, "labelPadding": 14, "titlePadding": 8}}}}
        ]
       }
      ]
     },
     {
      "width": 214, "height": 303,
      "data": {"name": "cellB"},
      "encoding": {
       "x": {"field": "g", "type": "nominal", "scale": {"type": "band", "domain": ["Control", "CYC1", "TEF1"], "paddingInner": 0, "paddingOuter": 0.172, "align": 0.55}, "axis": {"title": null, "labelAngle": -45, "labelAlign": "right", "labelBaseline": "middle", "labelOffset": -4, "labelFontSize": 19, "tickSize": 8, "labelPadding": 10}},
       "y": {"field": "v", "type": "quantitative", "scale": {"domain": [0, 1000]}, "axis": {"values": [0, 200, 400, 600, 800, 1000], "format": "d", "title": "Cell area [pixels]", "labelFontSize": 19, "titleFontSize": 19, "tickSize": 8, "labelPadding": 4, "titlePadding": 0}}
      },
      "layer": [
       {"mark": {"type": "point", "filled": true, "size": 42, "opacity": 0.9}, "encoding": {"xOffset": {"field": "k", "type": "quantitative", "scale": {"domain": [-5.33, 5.33]}}, "color": {"field": "g", "type": "nominal", "scale": {"domain": ["Control", "CYC1", "TEF1"], "range": ["#5ccad8", "#62a83a", "#b39bd3"]}, "legend": null}}},
       {"mark": {"type": "tick", "orient": "horizontal", "size": 44, "thickness": 1.5, "color": "#333"}, "encoding": {"y": {"aggregate": "median", "field": "v", "type": "quantitative", "scale": {"domain": [0, 1000]}, "axis": {"values": [0, 200, 400, 600, 800, 1000], "format": "d", "title": "Cell area [pixels]", "labelFontSize": 19, "titleFontSize": 19, "tickSize": 8, "labelPadding": 4, "titlePadding": 0}}}}
      ]
     }
    ]
   }
  ]
 }
]
}
